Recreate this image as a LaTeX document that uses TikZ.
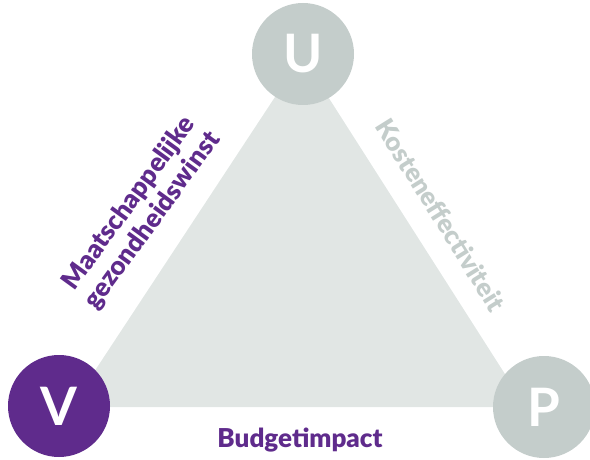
\documentclass[tikz,border=0pt]{standalone}
\usepackage{fontspec}
\setmainfont{Lato}
\newfontfamily\heavyfont{Lato Black}
\usepackage{tikz}
\usetikzlibrary{calc, positioning}

\definecolor{vgrey}{HTML}{C4CDCB}
\definecolor{vlight}{HTML}{E1E6E4}
\definecolor{vpurple}{HTML}{5F2B8C}

\begin{document}
\begin{tikzpicture}
[
    x = 1pt, y = 1pt,
    every node/.style = {align=center},
  ]

  \tikzset{VertexStyle/.style = {shape          = circle,
                                   fill           = vgrey,
                                   text           = white,
                                   inner sep      = 0pt,
                                   minimum size   = 102pt,
                                   font           = \fontsize{53}{53}\selectfont\bfseries}}
  \tikzset{SideStyle/.style = {inner sep = 0pt,
                                 font      = \fontsize{26}{29}\selectfont\heavyfont}}

  \useasboundingbox (0,0) rectangle (590,459);
  \clip (0,0) rectangle (590,459);

  % the triangle behind the three circles
  \coordinate (tU) at (302,403);
  \coordinate (tV) at (71,52);
  \coordinate (tP) at (526,52);
  \fill[vlight] (tU) -- (tV) -- (tP) -- cycle;

  \node[VertexStyle](U) at (303,405){U};
  \node[VertexStyle, fill=vpurple](V) at (59,53){V};
  \node[VertexStyle](P) at (544,52){P};

  % labels along the sides
  \node[SideStyle, text=vpurple, rotate=54](gezond) at (141,247){Maatschappelijke\\gezondheidswinst};
  \node[SideStyle, text=vgrey, rotate=-58](kosten) at (441,244){Kosteneffectiviteit};
  \node[SideStyle, text=vpurple, anchor=base](budget) at (300,12){Budgetimpact};

\end{tikzpicture}
\end{document}
